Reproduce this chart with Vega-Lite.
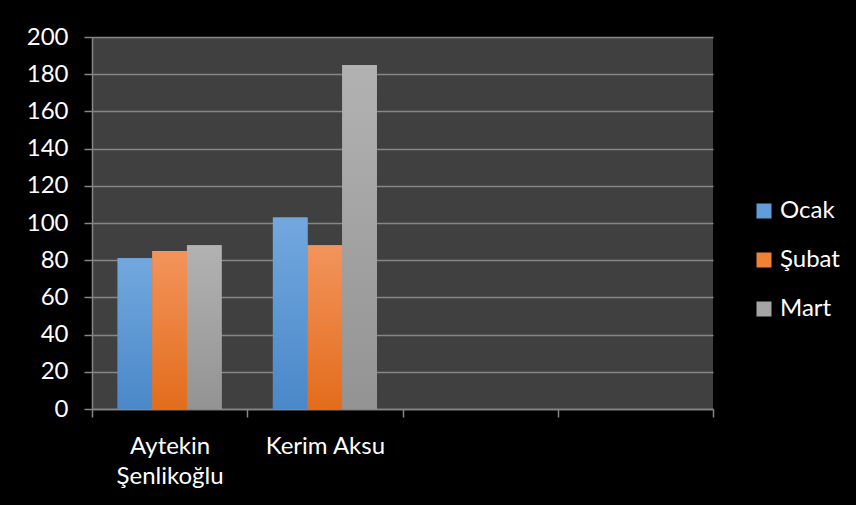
{
  "$schema": "https://vega.github.io/schema/vega-lite/v6.json",
  "autosize": {"type": "none"},
  "width": 621,
  "height": 372,
  "padding": {"left": 92, "top": 37, "right": 143, "bottom": 96},
  "background": "#000000",
  "config": {
    "view": {"fill": "#404040", "stroke": null},
    "font": "Lato",
    "axis": {"labelFont": "Lato", "labelColor": "#ffffff", "labelFontSize": 24, "domainColor": "#868686", "tickColor": "#868686", "domainWidth": 1.5, "tickWidth": 1.5, "tickSize": 8}
  },
  "data": {
    "values": [
      {"Kisi": "Aytekin Şenlikoğlu", "Ay": "Ocak", "Deger": 81},
      {"Kisi": "Aytekin Şenlikoğlu", "Ay": "Şubat", "Deger": 85},
      {"Kisi": "Aytekin Şenlikoğlu", "Ay": "Mart", "Deger": 88},
      {"Kisi": "Kerim Aksu", "Ay": "Ocak", "Deger": 103},
      {"Kisi": "Kerim Aksu", "Ay": "Şubat", "Deger": 88},
      {"Kisi": "Kerim Aksu", "Ay": "Mart", "Deger": 185}
    ]
  },
  "encoding": {
    "x": {
      "field": "Kisi", "type": "nominal",
      "scale": {"domain": ["Aytekin Şenlikoğlu", "Kerim Aksu", " ", "  "], "paddingInner": 0, "paddingOuter": 0},
      "axis": {
        "title": null, "labelAngle": 0, "tickBand": "extent", "grid": false,
        "labelPadding": 17, "labelLineHeight": 30, "labelBaseline": "top",
        "labelExpr": "datum.value == 'Aytekin Şenlikoğlu' ? ['Aytekin', 'Şenlikoğlu'] : datum.value"
      }
    },
    "xOffset": {
      "field": "Ay", "type": "nominal", "sort": ["Ocak", "Şubat", "Mart"],
      "scale": {"paddingInner": 0, "paddingOuter": 0.74}
    },
    "y": {
      "field": "Deger", "type": "quantitative",
      "scale": {"domain": [0, 200], "nice": false},
      "axis": {
        "title": null, "values": [0, 20, 40, 60, 80, 100, 120, 140, 160, 180, 200],
        "grid": true, "gridColor": "#868686", "gridWidth": 1.5,
        "labelPadding": 16
      }
    }
  },
  "layer": [
    {
      "mark": {"type": "bar"},
      "encoding": {
        "color": {
          "field": "Ay", "type": "nominal",
          "scale": {"domain": ["Ocak", "Şubat", "Mart"], "range": ["#5f9ddb", "#ef8236", "#a5a5a5"]},
          "legend": {
            "orient": "none", "legendX": 660, "legendY": 162,
            "title": null, "symbolType": "square", "symbolSize": 225,
            "symbolStrokeWidth": 0, "labelColor": "#ffffff", "labelFontSize": 24,
            "labelFont": "Lato", "rowPadding": 25, "labelOffset": 4
          }
        }
      }
    },
    {
      "mark": {"type": "bar"},
      "encoding": {
        "fill": {
          "condition": [
            {"test": "datum.Ay === 'Ocak'", "value": {"gradient": "linear", "x1": 0, "y1": 0, "x2": 0, "y2": 1, "stops": [{"offset": 0, "color": "#72a8de"}, {"offset": 1, "color": "#4a88c9"}]}},
            {"test": "datum.Ay === 'Şubat'", "value": {"gradient": "linear", "x1": 0, "y1": 0, "x2": 0, "y2": 1, "stops": [{"offset": 0, "color": "#f3945c"}, {"offset": 1, "color": "#e36c1b"}]}}
          ],
          "value": {"gradient": "linear", "x1": 0, "y1": 0, "x2": 0, "y2": 1, "stops": [{"offset": 0, "color": "#b2b2b2"}, {"offset": 1, "color": "#939393"}]}
        }
      }
    }
  ]
}
